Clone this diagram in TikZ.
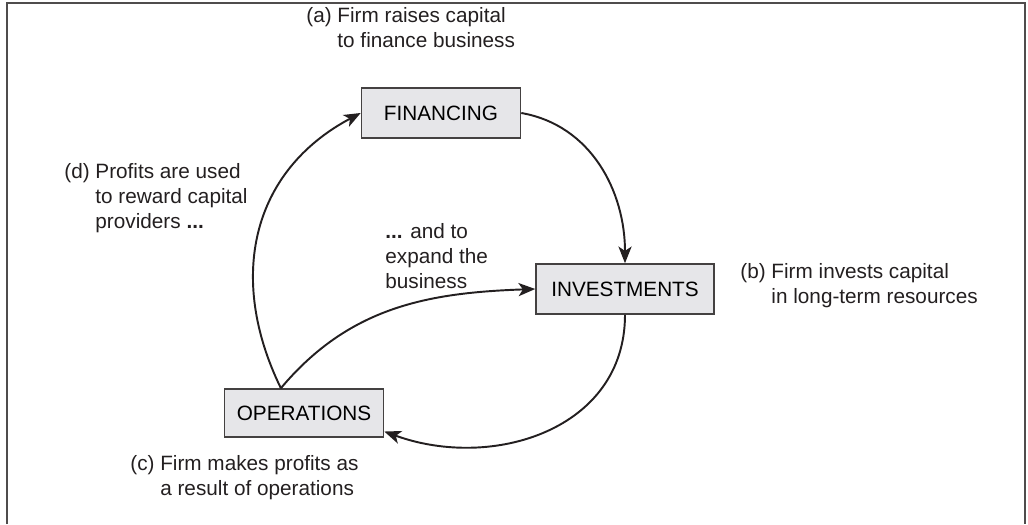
\documentclass[tikz,border=0pt]{standalone}
\usepackage{fontspec}
\setmainfont{Liberation Sans}
\usetikzlibrary{arrows.meta}

\definecolor{boxfill}{RGB}{230,230,233}
\definecolor{ink}{RGB}{35,31,32}

\newcommand{\notetext}[2]{\begin{tabular}[t]{@{}l@{\ }l@{}}#1 & #2\end{tabular}}

\begin{document}
\begin{tikzpicture}[
  stage/.style={rectangle, draw=ink!85, line width=0.9pt, fill=boxfill,
    minimum width=3.18cm, minimum height=1cm, inner sep=0pt,
    font=\fontsize{11.8}{14}\selectfont},
  note/.style={anchor=base west, inner sep=0pt, text=ink,
    font=\fontsize{11.8}{14}\selectfont},
  flow/.style={draw=ink, line width=1.1pt, -{Stealth[length=9.5pt, width=7.5pt, inset=2.5pt]}},
  scale=1
]

\useasboundingbox (0,0) rectangle (20.56,10.48);

% --- frame (open at the bottom) ---
\draw[ink!80, line width=1pt] (0.14,0) -- (0.14,10.42) -- (20.50,10.42) -- (20.50,0);

% --- stages ---
\node[stage] (fin) at (8.82,8.22) {FINANCING};
\node[stage, minimum width=3.56cm] (inv) at (12.50,4.70) {INVESTMENTS};
\node[stage, minimum height=0.96cm] (ops) at (6.08,2.22) {OPERATIONS};

% --- notes ---
\node[note] (na) at (6.12,10.02) {\notetext{(a)}{Firm raises capital\\ & to finance business}};
\node[note] (nb) at (14.80,4.90) {\notetext{(b)}{Firm invests capital\\ & in long-term resources}};
\node[note] (nc) at (2.60,1.06) {\notetext{(c)}{Firm makes profits as\\ & a result of operations}};
\node[note] (nd) at (1.28,6.90) {\notetext{(d)}{Profits are used\\ & to reward capital\\ & providers \textbf{...}}};
\node[note] (ne) at (7.70,5.70) {\begin{tabular}[t]{@{}l@{}}\textbf{...} and to\\ expand the\\ business\end{tabular}};

% --- flows ---
\draw[flow] (fin.east) to[out=-10, in=90] (inv.north);
\draw[flow] (inv.south) to[out=-90, in=-20, looseness=1.1] (ops.-13);
\draw[flow] (ops.133) to[out=116, in=208, looseness=1.1] (fin.west);
\draw[flow] (ops.133) to[out=50, in=182] (inv.west);

\end{tikzpicture}
\end{document}
